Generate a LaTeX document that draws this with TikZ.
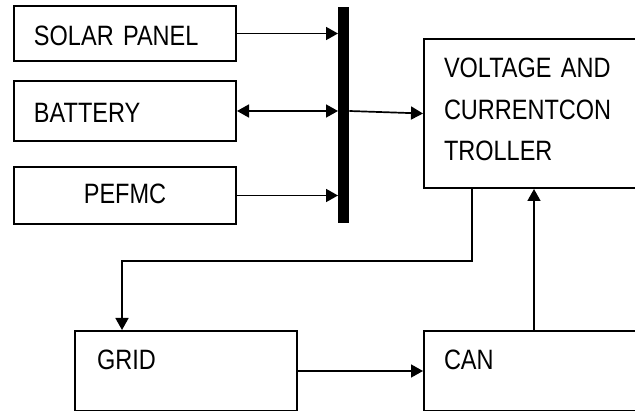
\documentclass[tikz,border=0pt]{standalone}
\usepackage{fontspec}
\setmainfont{Liberation Sans}[FakeStretch=0.84, WordSpace=0.75]
\usetikzlibrary{arrows.meta}
\begin{document}
\begin{tikzpicture}[x=1pt, y=-1pt, >={Triangle[length=12pt,width=13pt]},
  box/.style={draw, line width=2pt, inner xsep=20pt, inner ysep=0pt, anchor=north west, align=left, font=\fontsize{28}{41.5}\selectfont},
  link/.style={line width=1.7pt}]
  \useasboundingbox (0,0) rectangle (635,411);
  \clip (0,0) rectangle (635,411);
  % sources on the left
  \node[box, text width=182pt, text height=40pt, text depth=15pt] (solar) at (13,5) {SOLAR PANEL};
  \node[box, text width=182pt, text height=42pt, text depth=18pt] (battery) at (13,80) {BATTERY};
  \node[box, align=center, minimum width=222pt, text height=37pt, text depth=20pt] (pefmc) at (13,166) {PEFMC};
  \node[fill, inner sep=0pt, minimum width=11pt, minimum height=216pt, anchor=north west] (bus) at (338,7) {};
  % controller and the loop below
  \node[box, text width=197pt, text height=39pt, text depth=110pt] (controller) at (423,38) {VOLTAGE AND\\CURRENTCON\\TROLLER};
  \node[box, inner xsep=22pt, text width=178pt, text height=39pt, text depth=41pt] (grid) at (74,330) {GRID};
  \node[box, text width=197pt, text height=39pt, text depth=41pt] (can) at (423,330) {CAN};
  \draw[link, ->] (solar) -- (solar -| bus.west);
  \draw[link, <->] (battery) -- (battery -| bus.west);
  \draw[link, ->] (pefmc) -- (pefmc -| bus.west);
  \draw[link, ->] (battery -| bus.east) -- (controller.west);
  \draw[link, ->] ([xshift=49pt]controller.south west) -- ++(0,72) -| ([xshift=48pt]grid.north west);
  \draw[link, ->] (grid) -- (can);
  \draw[link, ->] ([xshift=111pt]can.north west) -- ([xshift=111pt]controller.south west);
\end{tikzpicture}
\end{document}
